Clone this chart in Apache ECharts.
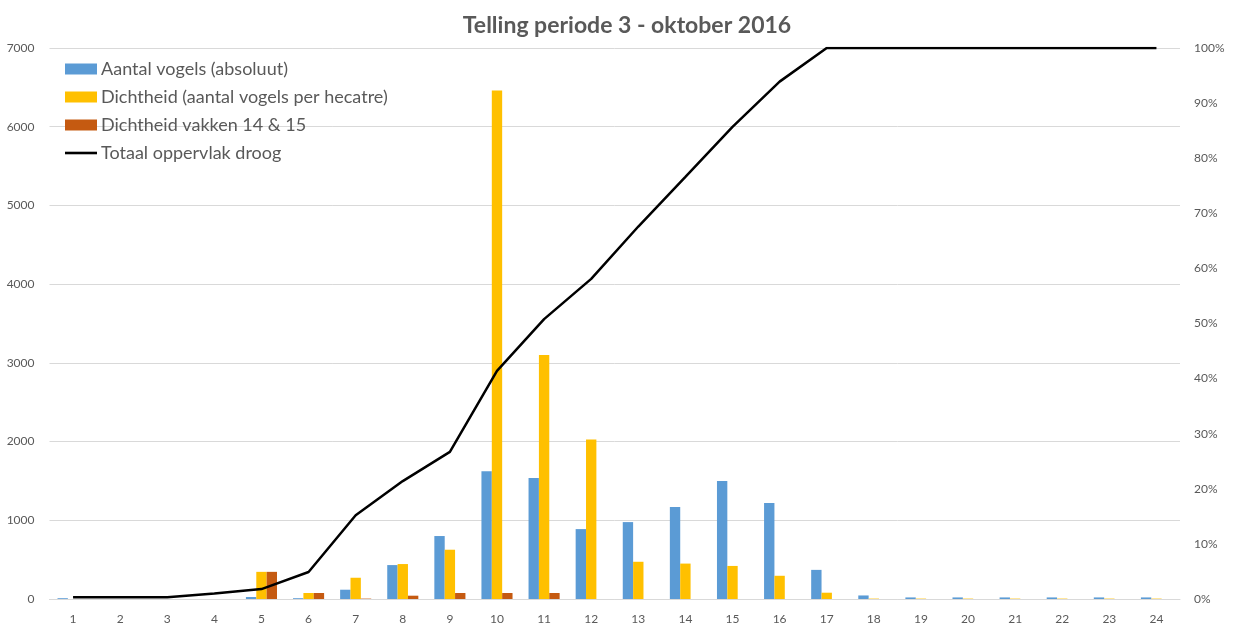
<!DOCTYPE html>
<html>
<head>
<meta charset="utf-8">
<script src="https://cdn.jsdelivr.net/npm/echarts@6/dist/echarts.min.js"></script>
<style>
html,body{margin:0;padding:0;background:#fff;}
#chart{width:1235px;height:625px;}
</style>
</head>
<body>
<div id="chart"></div>
<script>
const categories = ['1','2','3','4','5','6','7','8','9','10','11','12','13','14','15','16','17','18','19','20','21','22','23','24'];
const aantalVogels = [10,0,0,0,25,10,118,431,800,1624,1536,888,977,1170,1500,1220,370,45,20,20,20,20,20,20];
const dichtheid = [0,0,0,0,345,76,270,444,626,6460,3100,2025,473,450,420,295,80,5,5,5,5,5,5,5];
const dichtheidVakken = [0,0,0,0,345,76,5,42,76,76,76,0,0,0,0,0,0,0,0,0,0,0,0,0];
const totaalOppervlak = [0.003,0.003,0.003,0.010,0.018,0.049,0.152,0.214,0.267,0.414,0.508,0.581,0.676,0.766,0.857,0.939,1,1,1,1,1,1,1,1];
const seriesNames = ['Aantal vogels (absoluut)','Dichtheid (aantal vogels per hecatre)','Dichtheid vakken 14 & 15','Totaal oppervlak droog'];

const chart = echarts.init(document.getElementById('chart'));
const txt = '#595959';
const font = 'Lato, "Open Sans", sans-serif';
chart.setOption({
  animation: false,
  title: {
    text: 'Telling periode 3 - oktober 2016',
    left: 622, top: 9, textAlign: 'center',
    textStyle: {color: txt, fontSize: 23, fontWeight: 'bold', fontFamily: font}
  },
  legend: {
    orient: 'vertical', left: 65, top: 60, itemGap: 10, padding: 0,
    itemWidth: 32, itemHeight: 11,
    textStyle: {color: txt, fontSize: 18, lineHeight: 18, fontFamily: font, padding: [0,0,0,-1]},
    data: [
      {name: seriesNames[0], icon: 'rect'},
      {name: seriesNames[1], icon: 'rect'},
      {name: seriesNames[2], icon: 'rect'},
      {name: seriesNames[3], icon: 'path://M0,0 M32,11 M0,4.2 L32,4.2 L32,6.8 L0,6.8 Z'}
    ]
  },
  grid: {left: 49.5, right: 55, top: 48, bottom: 25, containLabel: false},
  xAxis: {
    type: 'category', data: categories,
    axisLine: {lineStyle: {color: '#d9d9d9', width: 1}},
    axisTick: {show: false},
    axisLabel: {color: txt, fontSize: 12, fontFamily: font, margin: 14}
  },
  yAxis: [
    {
      type: 'value', min: 0, max: 7000, interval: 1000,
      axisLine: {show: false}, axisTick: {show: false},
      axisLabel: {color: txt, fontSize: 12, fontFamily: font, margin: 15,
        formatter: v => String(v)},
      splitLine: {lineStyle: {color: '#d9d9d9', width: 1}}
    },
    {
      type: 'value', min: 0, max: 1, interval: 0.1,
      axisLine: {show: false}, axisTick: {show: false},
      axisLabel: {color: txt, fontSize: 12, fontFamily: font, margin: 14,
        formatter: v => Math.round(v*100) + '%'},
      splitLine: {show: false}
    }
  ],
  series: [
    {name: seriesNames[0], type: 'bar', data: aantalVogels, barWidth: '22%', barGap: '0%',
      itemStyle: {color: '#5B9BD5'}},
    {name: seriesNames[1], type: 'bar', data: dichtheid, barWidth: '22%', barGap: '0%',
      itemStyle: {color: '#FFC000'}},
    {name: seriesNames[2], type: 'bar', data: dichtheidVakken, barWidth: '22%', barGap: '0%',
      itemStyle: {color: '#C55A11'}},
    {name: seriesNames[3], type: 'line', yAxisIndex: 1, data: totaalOppervlak,
      symbol: 'none', lineStyle: {color: '#000', width: 2.5}, itemStyle: {color: '#000'}}
  ]
});
</script>
</body>
</html>
